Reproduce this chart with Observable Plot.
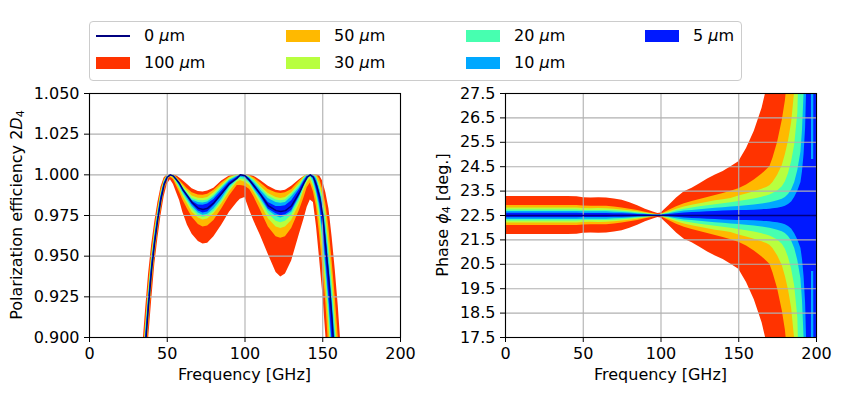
<!DOCTYPE html>
<html><head><meta charset="utf-8">
<script src="https://cdn.jsdelivr.net/npm/d3@7"></script>
<script src="https://cdn.jsdelivr.net/npm/@observablehq/plot@0.6"></script>
<style>
body{margin:0;background:#fff;}
#wrap{position:relative;width:850px;height:400px;font-family:"DejaVu Sans",sans-serif;font-size:16px;color:#000;overflow:hidden;}
.abs{position:absolute;white-space:nowrap;}
#legend{left:89px;top:21px;width:653px;height:60px;border:1px solid #cccccc;border-radius:4px;background:#fff;box-sizing:border-box;}
.lbl{line-height:20px;height:20px;}
.sub{font-size:0.7em;vertical-align:-0.25em;line-height:0;}
.rot{transform:translate(-50%,-50%) rotate(-90deg);transform-origin:center center;}
.ctr{transform:translate(-50%,-50%);}
</style></head>
<body><div id="wrap"><div id="legend" class="abs"></div></div>
<script>
// ---------- data ----------
const thicknesses = [100, 50, 30, 20, 10, 5];
const bandColors = ["#ff3300", "#ffb900", "#b8ff3f", "#47ffb0", "#00a8ff", "#0019ff"];
const lineColor = "#000080";
const xTicks = [0, 50, 100, 150, 200];
const effTicks = [0.9, 0.925, 0.95, 0.975, 1.0, 1.025, 1.05];
const phaseTicks = [17.5, 18.5, 19.5, 20.5, 21.5, 22.5, 23.5, 24.5, 25.5, 26.5, 27.5];

// Left panel: polarization efficiency
const freqL = [34,36,38,40,42,44,46,48,50,52,54,56,58,60,63,66,70,73,76,80,85,90,95,97,100,103,106,110,115,120,123,126,130,135,138,140,142,144,146,148,150,152,154,156,158,160,162,164];
const eff0 = [0.868,0.895,0.920,0.942,0.959,0.973,0.985,0.994,0.9985,1.000,0.9992,0.997,0.9945,0.991,0.987,0.983,0.9795,0.9787,0.9795,0.9828,0.9885,0.9945,0.998,1.000,0.9995,0.9965,0.993,0.988,0.981,0.978,0.9775,0.978,0.981,0.989,0.995,0.9985,1.000,0.9985,0.9935,0.9865,0.975,0.955,0.935,0.911,0.880,0.850,0.820,0.790];
const effHi100 = [0.891,0.916,0.939,0.957,0.971,0.983,0.9925,0.998,1.0,1.0, 1.0,0.9995,0.998,0.9965,0.994,0.9915,0.9898,0.9894,0.990,0.9918, 0.9962,0.9993,1.0,1.0,1.0,1.0,0.999,0.9965,0.993,0.9905, 0.990,0.9905,0.993,0.997,0.999,1.0,1.0,1.0,1.0,0.9995, 0.996,0.989,0.979,0.962,0.942,0.919,0.891,0.860];
const effLo100 = [0.845,0.872,0.899,0.923,0.945,0.961,0.975,0.9865,0.994,0.997, 0.994,0.989,0.984,0.977,0.969,0.9635,0.959,0.9575,0.958,0.962, 0.969,0.977,0.983,0.985,0.986,0.978,0.971,0.9625,0.951,0.940, 0.9372,0.939,0.947,0.9635,0.973,0.980,0.9845,0.983,0.968,0.948, 0.927,0.901,0.870,0.840,0.810,0.780,0.750,0.720];
const effHi50 = [0.8835,0.908,0.932,0.952,0.967,0.9795,0.9905,0.9968,1.0,1.0, 1.0,0.9985,0.9965,0.9945,0.9915,0.989,0.9876,0.9874,0.988,0.9905, 0.995,0.9985,1.0,1.0,1.0,0.9995,0.998,0.995,0.991,0.989, 0.9885,0.989,0.991,0.996,0.999,1.0,1.0,1.0,1.0,0.9975, 0.991,0.982,0.967,0.947,0.925,0.900,0.868,0.840];
const effLo50 = [0.855,0.881,0.906,0.930,0.950,0.9655,0.9785,0.9895,0.9963,0.9985, 0.997,0.993,0.989,0.9845,0.979,0.974,0.9695,0.968,0.9685,0.972, 0.979,0.987,0.9935,0.9935,0.993,0.991,0.986,0.978,0.968,0.962, 0.961,0.962,0.967,0.978,0.986,0.992,0.995,0.9895,0.980,0.963, 0.943,0.921,0.891,0.860,0.830,0.800,0.770,0.740];
const effHi30 = [0.879,0.9045,0.929,0.9495,0.965,0.978,0.989,0.996,0.9997,1.0, 1.0,0.998,0.9958,0.9935,0.990,0.987,0.9856,0.9854,0.986,0.989, 0.9935,0.998,1.0,1.0,1.0,0.999,0.997,0.993,0.9885,0.986, 0.9855,0.986,0.989,0.9945,0.9985,1.0,1.0,1.0,0.999,0.9945, 0.9875,0.977,0.958,0.938,0.914,0.886,0.855,0.825];
const effLo30 = [0.858,0.8845,0.910,0.934,0.952,0.9675,0.980,0.991,0.997,0.999, 0.998,0.9945,0.991,0.987,0.982,0.977,0.9735,0.9722,0.9728,0.976, 0.982,0.9895,0.9955,0.9965,0.9955,0.9935,0.989,0.982,0.973,0.968, 0.967,0.968,0.972,0.982,0.9905,0.995,0.9975,0.9925,0.985,0.972, 0.952,0.9315,0.906,0.876,0.845,0.815,0.785,0.755];
const effHi20 = [0.8765,0.903,0.9265,0.9475,0.9635,0.977,0.988,0.9955,0.9995,1.0, 0.9998,0.9978,0.9953,0.9925,0.989,0.9855,0.9842,0.984,0.9845,0.9875, 0.9925,0.997,0.9995,1.0,1.0,0.9985,0.9965,0.992,0.987,0.9845, 0.984,0.9845,0.988,0.9935,0.998,0.9998,1.0,1.0,0.9985,0.9925, 0.9855,0.973,0.953,0.933,0.908,0.877,0.847,0.817];
const effLo20 = [0.860,0.8875,0.9125,0.9365,0.954,0.969,0.9815,0.9915,0.9975,0.9993, 0.9985,0.9955,0.992,0.988,0.9835,0.979,0.975,0.9738,0.9745,0.9775, 0.9835,0.991,0.9965,0.9975,0.997,0.9945,0.990,0.984,0.976,0.9715, 0.9705,0.9715,0.975,0.984,0.992,0.9965,0.999,0.994,0.9875,0.9765, 0.957,0.937,0.9125,0.883,0.852,0.822,0.792,0.762];
const effHi10 = [0.8735,0.900,0.9245,0.9455,0.962,0.9755,0.987,0.995,0.999,1.0, 0.9996,0.9975,0.995,0.992,0.988,0.9845,0.983,0.9827,0.9833,0.9862, 0.9915,0.9965,0.999,1.0,0.9998,0.998,0.995,0.9905,0.9855,0.983, 0.9825,0.983,0.9865,0.992,0.997,0.9995,1.0,1.0,0.9975,0.991, 0.982,0.967,0.947,0.925,0.900,0.868,0.838,0.810];
const effLo10 = [0.8625,0.890,0.915,0.9385,0.9555,0.9705,0.9825,0.9925,0.998,0.9996, 0.9988,0.9962,0.993,0.9895,0.985,0.9805,0.9765,0.9752,0.9758,0.979, 0.985,0.9925,0.997,0.9985,0.998,0.9955,0.991,0.9855,0.978,0.9745, 0.9735,0.9745,0.977,0.986,0.9935,0.9975,0.9995,0.9965,0.9895,0.980, 0.963,0.943,0.920,0.8905,0.860,0.830,0.800,0.770];
const effHi5 = [0.8715,0.898,0.923,0.9445,0.961,0.9745,0.9865,0.9945,0.9988,1.0, 0.9994,0.9973,0.9948,0.9915,0.9875,0.9838,0.9815,0.9813,0.982,0.9848, 0.990,0.9955,0.9985,1.0,0.9997,0.9975,0.994,0.989,0.983,0.9805, 0.9805,0.981,0.984,0.991,0.996,0.999,1.0,0.9993,0.996,0.989, 0.979,0.962,0.942,0.919,0.891,0.860,0.830,0.800];
const effLo5 = [0.8645,0.892,0.917,0.9395,0.957,0.9715,0.9835,0.993,0.998,0.9998, 0.999,0.9966,0.9942,0.9903,0.9862,0.9818,0.9778,0.9766,0.9772,0.981, 0.987,0.9935,0.9975,0.999,0.999,0.996,0.992,0.987,0.979,0.976, 0.9748,0.9755,0.978,0.987,0.994,0.998,0.9998,0.998,0.991,0.9825, 0.968,0.948,0.9245,0.8975,0.868,0.840,0.810,0.780];

// Right panel: phase (centre value and half-widths of each band, degrees)
const phaseF0 = [0, 200];
const phase0 = [22.5, 22.5];
const freqR = [0,20,40,46,50,55,60,65,70,75,80,85,90,95,98,100,105,110,115,120,125,130,135,140,145,150,155,160,165,168,170,172,175,178,180,182,184,186,188,190,191,192,193,194,195,196.6,196.8,198.2,198.4,200];
const phaseHw100 = [0.78,0.78,0.78,0.77,0.73, 0.72,0.73,0.72,0.68,0.62, 0.52,0.40,0.26,0.14,0.08, 0.10,0.40,0.72,0.97,1.12, 1.30,1.50,1.66,1.80,2.00, 2.20,2.75,3.45,4.40,5.20, 6.0,9,9,9,9, 9,9,9,9,9, 9,9,9,9,9, 9,9,9,9,9];
const phaseHw50 = [0.41,0.41,0.41,0.41,0.39, 0.38,0.38,0.38,0.35,0.31, 0.26,0.20,0.13,0.07,0.04, 0.05,0.20,0.36,0.48,0.57, 0.66,0.74,0.82,0.90,0.99, 1.10,1.25,1.45,1.70,1.87, 2.0,2.35,3.0,3.9,4.7, 6.0,9,9,9,9, 9,9,9,9,9, 9,9,9,9,9];
const phaseHw30 = [0.31,0.31,0.31,0.31,0.29, 0.28,0.29,0.28,0.26,0.23, 0.19,0.15,0.10,0.05,0.03, 0.04,0.14,0.26,0.35,0.42, 0.48,0.54,0.60,0.65,0.70, 0.80,0.88,0.97,1.08,1.15, 1.22,1.35,1.65,2.05,2.5, 3.05,3.8,5.1,9,9, 9,9,9,9,9, 9,9,9,9,9];
const phaseHw20 = [0.23,0.23,0.23,0.23,0.21, 0.21,0.21,0.21,0.19,0.17, 0.14,0.11,0.07,0.035,0.02, 0.03,0.10,0.19,0.26,0.31, 0.36,0.40,0.44,0.48,0.52, 0.57,0.62,0.68,0.75,0.80, 0.84,0.90,1.00,1.18,1.38, 1.72,2.2,2.9,4.2,9, 9,9,9,9,9, 9,9,9,9,9];
const phaseHw10 = [0.16,0.16,0.16,0.16,0.15, 0.15,0.15,0.15,0.13,0.12, 0.10,0.075,0.05,0.025,0.015, 0.02,0.07,0.13,0.18,0.21, 0.24,0.27,0.30,0.32,0.345, 0.37,0.40,0.43,0.47,0.50, 0.52,0.55,0.60,0.67,0.74, 0.86,1.05,1.35,1.85,2.6, 3.5,5,9,9,9, 9,9,9,9,9];
const phaseHw5 = [0.09,0.09,0.09,0.09,0.085, 0.085,0.085,0.085,0.075,0.068, 0.058,0.045,0.03,0.015,0.01, 0.012,0.04,0.075,0.10,0.12, 0.135,0.15,0.165,0.18,0.19, 0.20,0.21,0.22,0.24,0.25, 0.26,0.28,0.30,0.34,0.38, 0.45,0.55,0.75,1.0,1.35, 1.8,2.5,3.6,6,9, 9,2.3,2.3,9,9];

// ---------- build ----------
const effBands = [[effLo100, effHi100],[effLo50, effHi50],[effLo30, effHi30],[effLo20, effHi20],[effLo10, effHi10],[effLo5, effHi5]];
const phaseBands = [phaseHw100, phaseHw50, phaseHw30, phaseHw20, phaseHw10, phaseHw5];
const style = {fontFamily: "DejaVu Sans", fontSize: "16px", background: "none", overflow: "visible"};

const leftPlot = Plot.plot({
  width: 425, height: 320, marginLeft: 89, marginRight: 25, marginTop: 13, marginBottom: 63,
  style, x: {domain: [0, 200]}, y: {domain: [0.9, 1.05]},
  marks: [
    ...effBands.map(([lo, hi], i) => Plot.areaY(freqL.map((f, j) => ({f, lo: lo[j], hi: hi[j]})),
        {x: "f", y1: "lo", y2: "hi", fill: bandColors[i], clip: true})),
    Plot.ruleX(xTicks, {stroke: "#b0b0b0", strokeWidth: 1.1}),
    Plot.ruleY(effTicks, {stroke: "#b0b0b0", strokeWidth: 1.1}),
    Plot.line(freqL.map((f, j) => ({f, v: eff0[j]})), {x: "f", y: "v", stroke: lineColor, strokeWidth: 1.5, clip: true}),
    Plot.frame({stroke: "black", strokeWidth: 1.1}),
    Plot.axisX({ticks: xTicks, tickSize: 5, tickPadding: 5, label: null, fontSize: 16}),
    Plot.axisY({ticks: effTicks, tickFormat: d3.format(".3f"), tickSize: 5, tickPadding: 5, label: null, fontSize: 16})
  ]
});

const rightPlot = Plot.plot({
  width: 425, height: 320, marginLeft: 80, marginRight: 34, marginTop: 13, marginBottom: 63,
  style, x: {domain: [0, 200]}, y: {domain: [17.5, 27.5]},
  marks: [
    ...phaseBands.map((hw, i) => Plot.areaY(freqR.map((f, j) => ({f, lo: 22.5 - hw[j], hi: 22.5 + hw[j]})),
        {x: "f", y1: "lo", y2: "hi", fill: bandColors[i], clip: true})),
    Plot.ruleX(xTicks, {stroke: "#b0b0b0", strokeWidth: 1.1}),
    Plot.ruleY(phaseTicks, {stroke: "#b0b0b0", strokeWidth: 1.1}),
    Plot.line(phaseF0.map((f, j) => ({f, v: phase0[j]})), {x: "f", y: "v", stroke: lineColor, strokeWidth: 1.5, clip: true}),
    Plot.frame({stroke: "black", strokeWidth: 1.1}),
    Plot.axisX({ticks: xTicks, tickSize: 5, tickPadding: 5, label: null, fontSize: 16}),
    Plot.axisY({ticks: phaseTicks, tickFormat: d3.format(".1f"), tickSize: 5, tickPadding: 5, label: null, fontSize: 16})
  ]
});

const wrap = document.getElementById("wrap");
for (const [svg, x] of [[leftPlot, 0], [rightPlot, 425]]) {
  svg.style.position = "absolute"; svg.style.left = x + "px"; svg.style.top = "80px";
  wrap.appendChild(svg);
}

function addText(html, x, y, cls) {
  const d = document.createElement("div");
  d.className = "abs " + cls; d.style.left = x + "px"; d.style.top = y + "px"; d.innerHTML = html;
  wrap.appendChild(d); return d;
}
addText("Frequency [GHz]", 244.5, 374, "ctr");
addText("Frequency [GHz]", 660.5, 374, "ctr");
addText("Polarization efficiency 2<i>D</i><span class='sub'>4</span>", 16, 215, "rot");
addText("Phase <i>ϕ</i><span class='sub'>4</span> [deg.]", 442, 215, "rot");

// legend (column-major, 4 columns x 2 rows)
const legendItems = [{label: "0", type: "line", color: lineColor}].concat(
  thicknesses.map((t, i) => ({label: String(t), type: "rect", color: bandColors[i]})));
const colX = [96, 286, 466, 645];
const rowY = [36, 63];
legendItems.forEach((it, k) => {
  const c = Math.floor(k / 2), r = k % 2;
  const h = document.createElement("div");
  h.className = "abs";
  h.style.left = colX[c] + "px"; h.style.width = "34px";
  if (it.type === "line") { h.style.top = (rowY[r] - 0.7) + "px"; h.style.height = "1.4px"; }
  else { h.style.top = (rowY[r] - 6) + "px"; h.style.height = "12px"; }
  h.style.background = it.color;
  wrap.appendChild(h);
  addText(it.label + " <i>μ</i>m", colX[c] + 48, rowY[r] - 10, "lbl");
});
</script></body></html>
